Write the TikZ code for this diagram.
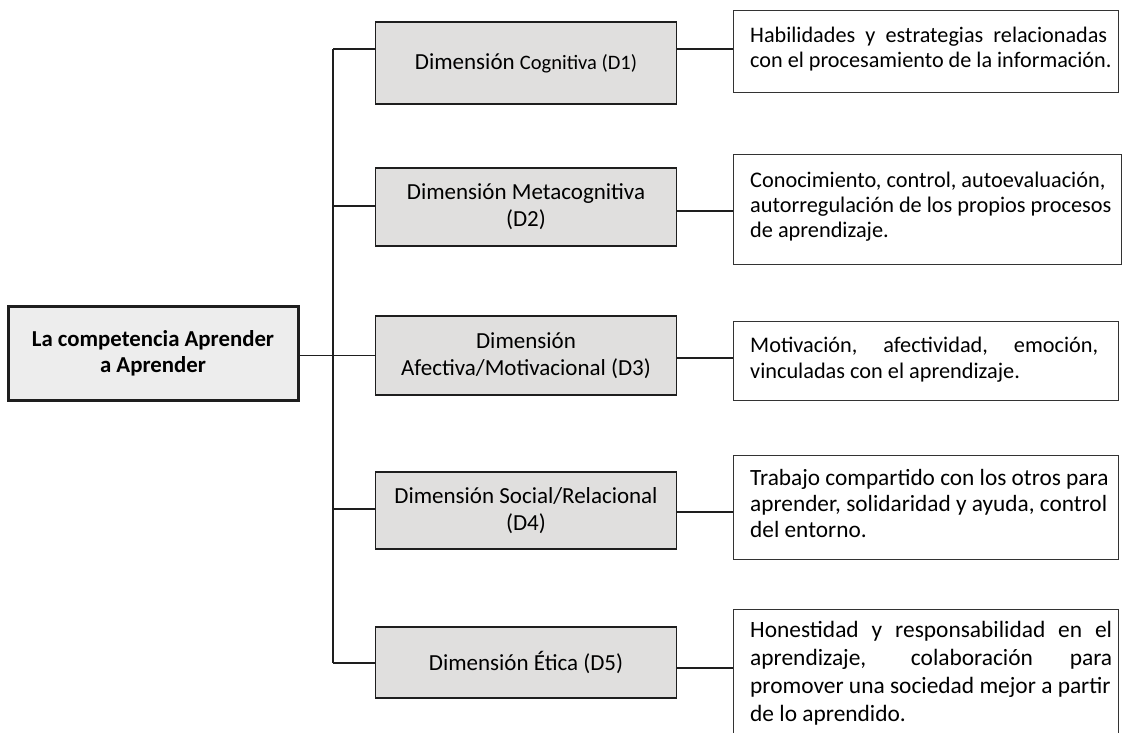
\documentclass[tikz,border=0pt]{standalone}
\usepackage{fontspec}
\setmainfont{Carlito}
\definecolor{dimfill}{RGB}{224,223,222}
\definecolor{mainfill}{RGB}{237,237,237}
\definecolor{linec}{RGB}{30,30,30}
\begin{document}
\begin{tikzpicture}[x=1pt,y=-1pt,
  mainbox/.style={draw=linec, line width=3pt, fill=mainfill, minimum width=290pt, minimum height=94pt,
    align=center, inner sep=0pt, font=\bfseries\fontsize{22.8}{26}\selectfont},
  dimbox/.style={draw=linec, line width=1.3pt, fill=dimfill, minimum width=301pt,
    align=center, inner sep=0pt, font=\fontsize{23}{27}\selectfont},
  descbox/.style={draw=black!80, line width=1.3pt, fill=white, minimum width=385pt, anchor=north west, inner sep=0pt},
  desctext/.style={anchor=base west, inner sep=0pt},
  conn/.style={draw=linec, line width=1.5pt}
]
\useasboundingbox (0,0) rectangle (1125,733);
\clip (0,0) rectangle (1125,733);

% main node
\node[mainbox] (M) at (153,353) {La competencia Aprender\\a Aprender};

% dimension boxes
\node[dimbox, minimum height=82pt] (D1) at (526,63)
  {Dimensión {\fontsize{20.5}{27}\selectfont Cognitiva (D1)}};
\node[dimbox, minimum height=78pt] (D2) at (526,207) {Dimensión Metacognitiva\\(D2)};
\node[dimbox, minimum height=79pt] (D3) at (526,355.5) {Dimensión\\Afectiva/Motivacional (D3)};
\node[dimbox, minimum height=77pt] (D4) at (526,510.5) {Dimensión Social/Relacional\\(D4)};
\node[dimbox, minimum height=71pt] (D5) at (526,662.5) {Dimensión Ética (D5)};

% description boxes
\node[descbox, minimum height=82pt] (R1) at (733,10) {};
\node[descbox, minimum height=110pt, minimum width=388pt] (R2) at (733,154) {};
\node[descbox, minimum height=79pt] (R3) at (733,321) {};
\node[descbox, minimum height=104pt] (R4) at (733,455) {};
\node[descbox, minimum height=140pt] (R5) at (733,609) {};

\node[desctext] (T1) at (750,43) {\parbox[t]{372pt}{\fontsize{22.2}{25}\selectfont
  \makebox[357pt][s]{Habilidades y estrategias relacionadas}\\
  con el procesamiento de la información.}};
\node[desctext] (T2) at (750,187) {\parbox[t]{372pt}{\fontsize{22.3}{25.5}\selectfont
  Conocimiento, control, autoevaluación,\\
  autorregulación de los propios procesos\\
  de aprendizaje.}};
\node[desctext] (T3) at (750,352) {\parbox[t]{372pt}{\fontsize{22.3}{26}\selectfont
  \makebox[348pt][s]{Motivación, afectividad, emoción,}\\
  vinculadas con el aprendizaje.}};
\node[desctext] (T4) at (750,485) {\parbox[t]{372pt}{\fontsize{23.3}{26}\selectfont
  Trabajo compartido con los otros para\\
  aprender, solidaridad y ayuda, control\\
  del entorno.}};
\node[desctext] (T5) at (750,637) {\parbox[t]{372pt}{\fontsize{23.4}{28}\selectfont
  \makebox[362pt][s]{Honestidad y responsabilidad en el}\\
  \makebox[362pt][s]{aprendizaje, colaboración para}\\
  promover una sociedad mejor a partir\\
  de lo aprendido.}};

% trunk coordinates
\coordinate (t1) at (333,49);
\coordinate (t2) at (333,206);
\coordinate (t3) at (333,355.5);
\coordinate (t4) at (333,509);
\coordinate (t5) at (333,663);

\draw[conn] (t1) -- (t5);
\draw[conn] (M.east |- t3) -- (D3.west |- t3);
\draw[conn] (t1) -- (D1.west |- t1);
\draw[conn] (t2) -- (D2.west |- t2);
\draw[conn] (t4) -- (D4.west |- t4);
\draw[conn] (t5) -- (D5.west |- t5);

\draw[conn] (D1.east |- 0,49) -- (R1.west |- 0,49);
\draw[conn] (D2.east |- 0,211) -- (R2.west |- 0,211);
\draw[conn] (D3.east |- 0,358) -- (R3.west |- 0,358);
\draw[conn] (D4.east |- 0,512) -- (R4.west |- 0,512);
\draw[conn] (D5.east |- 0,668) -- (R5.west |- 0,668);
\end{tikzpicture}
\end{document}
